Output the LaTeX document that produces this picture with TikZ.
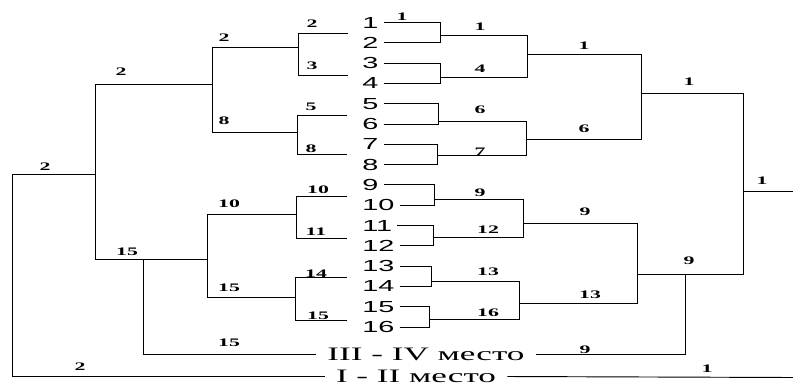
\documentclass[tikz,border=0pt]{standalone}
\usepackage{fontspec}
\newfontfamily\seedfont[FakeStretch=1.8]{Liberation Sans}
\newfontfamily\placefont[FakeStretch=1.85]{Liberation Serif}
\newfontfamily\scorefont[FakeStretch=1.9]{Liberation Serif}
\tikzset{
  seed/.style={anchor=west, inner xsep=3.75pt, inner ysep=0pt,
    font=\seedfont\fontsize{12pt}{12pt}\selectfont},
  place/.style={inner xsep=8.25pt, inner ysep=0pt,
    font=\placefont\fontsize{14.25pt}{14.25pt}\selectfont},
  score/.style={inner sep=0pt, font=\scorefont\bfseries\fontsize{8.6pt}{8.6pt}\selectfont},
  wire/.style={line width=0.7pt, black}
}
\begin{document}
\begin{tikzpicture}[x=0.75pt, y=-0.75pt]
\useasboundingbox (0,0) rectangle (793,386);

% seeded players
\foreach \k in {1,...,16}
  \node[seed] (n\k) at (357,{22.5+20.3*(\k-1)}) {\k};

% final place labels
\node[place] (t34) at (426,354) {III - IV место};
\node[place] (t12) at (416,376.5) {I - II место};

% ---- right half: winners ----
\coordinate (A1) at (440,35);
\coordinate (A2) at (440,77);
\coordinate (A3) at (438,121);
\coordinate (A4) at (437,155);
\coordinate (A5) at (434,199);
\coordinate (A6) at (433,237);
\coordinate (A7) at (431,281);
\coordinate (A8) at (429,319);
\coordinate (B1) at (527,54);
\coordinate (B2) at (526,139);
\coordinate (B3) at (523,223);
\coordinate (B4) at (519,303);
\coordinate (C1) at (641,93);
\coordinate (C2) at (637,274);
\coordinate (D)  at (743,191);
\coordinate (E)  at (793,191);
\coordinate (T)  at (685,274);
\coordinate (F)  at (793,377.5);

\foreach \a/\p/\q in {A1/1/2, A2/3/4, A3/5/6, A4/7/8,
                      A5/9/10, A6/11/12, A7/13/14, A8/15/16} {
  \draw[wire] (n\p.east) -| (\a);
  \draw[wire] (n\q.east) -| (\a);
}
\foreach \b/\u/\v in {B1/A1/A2, B2/A3/A4, B3/A5/A6, B4/A7/A8,
                      C1/B1/B2, C2/B3/B4, D/C1/C2} {
  \draw[wire] (\u) -| (\b);
  \draw[wire] (\v) -| (\b);
}
\draw[wire] (D) -- (E);
\draw[wire] (t34.east) -| (T);
\draw[wire] (t12.east) -- (F);

% ---- left half: losers ----
\coordinate (P1) at (348,33);
\coordinate (P2) at (348,75);
\coordinate (P3) at (347,115);
\coordinate (P4) at (347,154);
\coordinate (P5) at (347,196);
\coordinate (P6) at (347,238);
\coordinate (P7) at (347,277);
\coordinate (P8) at (347,320);
\coordinate (G1) at (298,47);
\coordinate (G2) at (297,132);
\coordinate (G3) at (296,214);
\coordinate (G4) at (295,297);
\coordinate (H1) at (212,84);
\coordinate (H2) at (207,259);
\coordinate (K)  at (95,174);
\coordinate (Q)  at (143,259);
\coordinate (M)  at (12,174);

\foreach \b/\u/\v in {G1/P1/P2, G2/P3/P4, G3/P5/P6, G4/P7/P8,
                      H1/G1/G2, H2/G3/G4, K/H1/H2} {
  \draw[wire] (\u) -| (\b);
  \draw[wire] (\v) -| (\b);
}
\draw[wire] (Q) |- (t34.west);
\draw[wire] (K) -- (M) |- (t12.west);

% ---- match scores, right half ----
\foreach \x/\y/\s in {402/17/1, 480/27/1, 480/69/4, 584/46/1,
                      480/110/6, 480/152/7, 584/129/6, 689/82/1,
                      762/181/1, 480/193/9, 488/230/12, 585/212/9,
                      488/272/13, 488/313/16, 590/295/13, 689/261/9,
                      585/350/9, 707/369/1}
  \node[score] at (\x,\y) {\s};

% ---- match scores, left half ----
\foreach \x/\y/\s in {312/24/2, 312/66/3, 224/38/2, 311/107/5,
                      311/149/8, 224/121/8, 121/72/2, 45/167/2,
                      318/190/10, 316/232/11, 229/204/10, 316/274/14,
                      318/316/15, 229/288/15, 127/252/15, 229/343/15,
                      80/367/2}
  \node[score] at (\x,\y) {\s};
\end{tikzpicture}
\end{document}
